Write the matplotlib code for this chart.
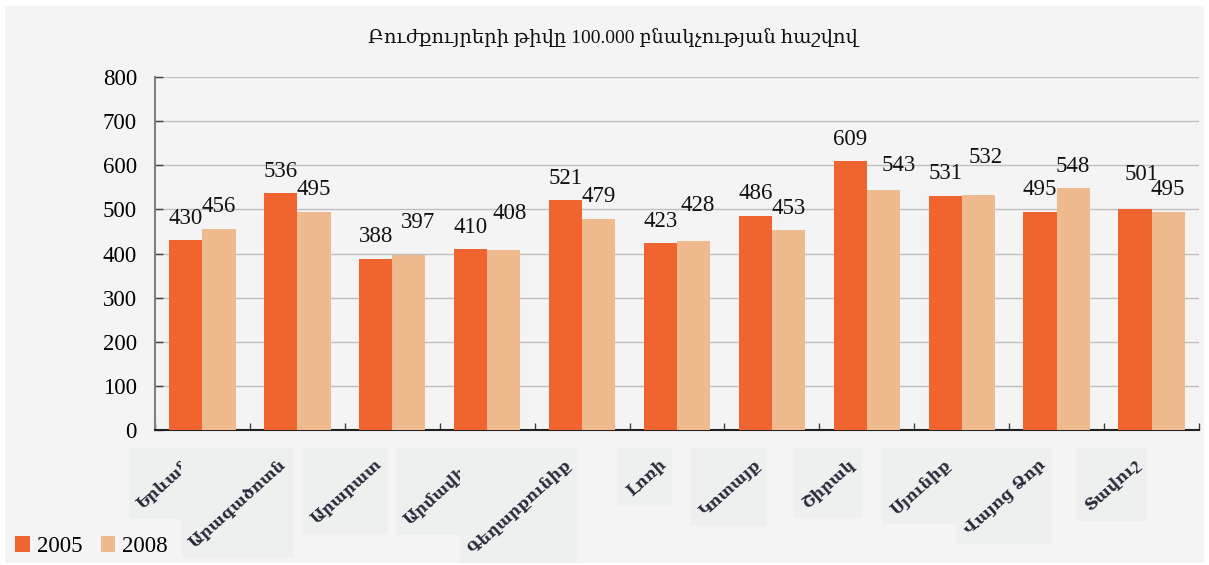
import matplotlib
matplotlib.use("Agg")
import matplotlib.pyplot as plt
from matplotlib.patches import Rectangle, Patch
from matplotlib.transforms import IdentityTransform
import numpy as np

# ---------------- data ----------------
regions = ["Երևան", "Արագածոտն", "Արարատ", "Արմավիր", "Գեղարքունիք", "Լոռի",
           "Կոտայք", "Շիրակ", "Սյունիք", "Վայոց Ձոր", "Տավուշ"]
values_2005 = [430, 536, 388, 410, 521, 423, 486, 609, 531, 495, 501]
values_2008 = [456, 495, 397, 408, 479, 428, 453, 543, 532, 548, 495]
series_names = ["2005", "2008"]
title = "Բուժքույրերի թիվը 100.000 բնակչության հաշվով"
yticks = [0, 100, 200, 300, 400, 500, 600, 700, 800]

# ---------------- layout (pixel nudges for value labels, as in the original) -------------
nudge_2005 = [(0, 0), (0, 0), (0, 0), (0, 0), (0, 0), (0, 0), (0, 0), (0, 0), (0, 0), (0, 0), (7, 12)]
nudge_2008 = [(0, 0), (0, 0), (9, 10), (6, 14), (0, 0), (4, 14), (0, 0), (15, 3), (7, 16), (0, 0), (0, 0)]

C2005 = "#f0652f"
C2008 = "#efba8e"
BG = "#f4f4f4"
BOX = "#eef0ef"

W, H, DPI = 1209, 565, 100
fig = plt.figure(figsize=(W / DPI, H / DPI), dpi=DPI, facecolor="white")
fig.add_artist(Rectangle((5 / W, 2 / H), 1199 / W, 557 / H, transform=fig.transFigure,
                         facecolor=BG, edgecolor="none", zorder=-10))

serif = ["Liberation Serif", "DejaVu Serif"]
NUM = 16.5
ax = fig.add_axes([155 / W, (H - 430) / H, (1199 - 155) / W, (430 - 77) / H])
ax.set_facecolor("none")

x = np.arange(len(regions))
bw = 0.35
b1 = ax.bar(x - bw / 2, values_2005, bw, color=C2005, zorder=3)
b2 = ax.bar(x + bw / 2, values_2008, bw, color=C2008, zorder=3)

ax.set_xlim(-0.5, len(regions) - 0.5)
ax.set_ylim(0, 800)
ax.set_yticks(yticks)
ax.set_yticklabels([str(v) for v in yticks], fontfamily=serif, fontsize=NUM)
ax.yaxis.grid(True, color="#c0c0c0", lw=1, zorder=0)
ax.set_axisbelow(True)
ax.tick_params(axis="y", direction="in", length=6, width=1, color="#404040", pad=13)
ax.set_xticks(np.arange(len(regions) + 1) - 0.5)
ax.set_xticklabels([])
ax.tick_params(axis="x", direction="in", length=5, width=1, color="#404040")
for s in ["top", "right"]:
    ax.spines[s].set_visible(False)
ax.spines["left"].set_color("#808080")
ax.spines["left"].set_linewidth(1.5)
ax.spines["bottom"].set_color("#202020")
ax.spines["bottom"].set_linewidth(1.5)

# value labels
for bars, vals, nud in ((b1, values_2005, nudge_2005), (b2, values_2008, nudge_2008)):
    for rect, v, (dx, dy) in zip(bars, vals, nud):
        ax.annotate(str(v), xy=(rect.get_x() + rect.get_width() / 2, v),
                    xytext=((dx) * 72 / DPI, (22 + dy) * 72 / DPI), textcoords="offset points",
                    ha="center", va="center", fontsize=NUM, fontfamily=serif,
                    color="#111111", zorder=5)

# title
fig.text(613 / W, 1 - 38 / H, title, ha="center", va="center", fontsize=14,
         fontfamily=serif, color="#111111")

# category labels (rotated, on light boxes)
labels = []
for i, name in enumerate(regions):
    t = ax.annotate(name, xy=(i, 0), xycoords=("data", "axes fraction"),
                    xytext=(-19 * 72 / DPI, -26 * 72 / DPI), textcoords="offset points",
                    rotation=42, rotation_mode="anchor", ha="right", va="top",
                    fontsize=11.5, fontweight="bold", fontfamily=["DejaVu Serif"],
                    color="#2a2a3a", annotation_clip=False, zorder=20 + 2 * i + 1)
    labels.append(t)

fig.canvas.draw()
renderer = fig.canvas.get_renderer()
for i, t in enumerate(labels):
    bb = t.get_window_extent(renderer)
    r = Rectangle((bb.x0 - 5, bb.y0 - 6), bb.width + 8, bb.height + 14,
                  transform=IdentityTransform(), facecolor=BOX, edgecolor="none",
                  clip_on=False, zorder=20 + 2 * i)
    ax.add_artist(r)

# legend
handles = [Patch(facecolor=C2005, edgecolor="none"), Patch(facecolor=C2008, edgecolor="none")]
fig.legend(handles, series_names, loc="lower left", bbox_to_anchor=(15 / W, 8 / H),
           ncol=2, frameon=False, prop={"family": serif, "size": NUM},
           handlelength=0.65, handleheight=0.7, handletextpad=0.3, columnspacing=0.8,
           borderpad=0, borderaxespad=0)

fig.savefig("out.png", dpi=DPI, facecolor="white")
